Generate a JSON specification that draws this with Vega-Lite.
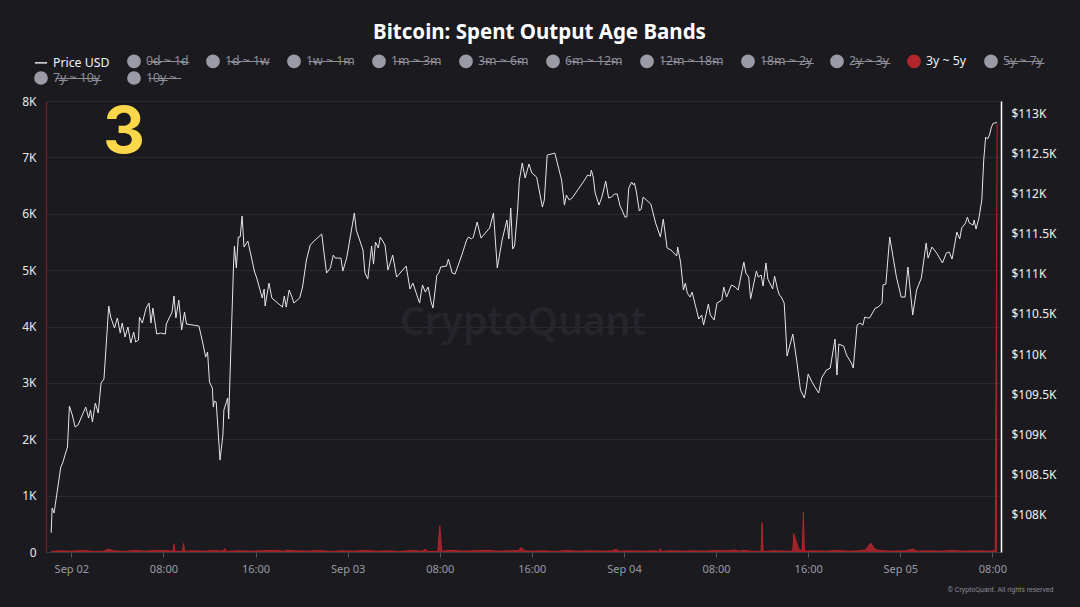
{
  "$schema": "https://vega.github.io/schema/vega-lite/v6.json",
  "width": 955,
  "height": 451,
  "autosize": {"type": "none"},
  "padding": {"left": 46, "top": 101, "right": 79, "bottom": 55},
  "background": "#1a1a1f",
  "title": {"text": "Bitcoin: Spent Output Age Bands", "anchor": "middle", "frame": "group", "fontSize": 20.5, "fontWeight": "bold", "color": "#ffffff", "font": "Noto Sans", "offset": 11, "dx": 16},
  "datasets": {
    "price": [
      {"time": "2025-09-01T22:15:00Z", "price": 107773},
      {"time": "2025-09-01T22:20:00Z", "price": 108081},
      {"time": "2025-09-01T22:30:00Z", "price": 108019},
      {"time": "2025-09-01T23:05:00Z", "price": 108592},
      {"time": "2025-09-01T23:15:00Z", "price": 108642},
      {"time": "2025-09-01T23:30:00Z", "price": 108766},
      {"time": "2025-09-01T23:40:00Z", "price": 108841},
      {"time": "2025-09-01T23:50:00Z", "price": 109352},
      {"time": "2025-09-02T00:05:00Z", "price": 109240},
      {"time": "2025-09-02T00:20:00Z", "price": 109090},
      {"time": "2025-09-02T00:35:00Z", "price": 109115},
      {"time": "2025-09-02T01:15:00Z", "price": 109339},
      {"time": "2025-09-02T01:30:00Z", "price": 109202},
      {"time": "2025-09-02T01:40:00Z", "price": 109302},
      {"time": "2025-09-02T01:50:00Z", "price": 109153},
      {"time": "2025-09-02T02:05:00Z", "price": 109389},
      {"time": "2025-09-02T02:20:00Z", "price": 109265},
      {"time": "2025-09-02T02:35:00Z", "price": 109638},
      {"time": "2025-09-02T02:50:00Z", "price": 109688},
      {"time": "2025-09-02T03:15:00Z", "price": 110598},
      {"time": "2025-09-02T03:25:00Z", "price": 110461},
      {"time": "2025-09-02T03:45:00Z", "price": 110324},
      {"time": "2025-09-02T04:00:00Z", "price": 110449},
      {"time": "2025-09-02T04:15:00Z", "price": 110261},
      {"time": "2025-09-02T04:25:00Z", "price": 110386},
      {"time": "2025-09-02T04:40:00Z", "price": 110212},
      {"time": "2025-09-02T04:55:00Z", "price": 110336},
      {"time": "2025-09-02T05:10:00Z", "price": 110137},
      {"time": "2025-09-02T05:25:00Z", "price": 110274},
      {"time": "2025-09-02T05:35:00Z", "price": 110150},
      {"time": "2025-09-02T05:50:00Z", "price": 110174},
      {"time": "2025-09-02T05:55:00Z", "price": 110461},
      {"time": "2025-09-02T06:10:00Z", "price": 110386},
      {"time": "2025-09-02T06:30:00Z", "price": 110573},
      {"time": "2025-09-02T06:45:00Z", "price": 110635},
      {"time": "2025-09-02T06:55:00Z", "price": 110386},
      {"time": "2025-09-02T07:05:00Z", "price": 110573},
      {"time": "2025-09-02T07:25:00Z", "price": 110249},
      {"time": "2025-09-02T07:45:00Z", "price": 110261},
      {"time": "2025-09-02T08:10:00Z", "price": 110249},
      {"time": "2025-09-02T08:15:00Z", "price": 110374},
      {"time": "2025-09-02T08:45:00Z", "price": 110523},
      {"time": "2025-09-02T08:55:00Z", "price": 110723},
      {"time": "2025-09-02T09:05:00Z", "price": 110449},
      {"time": "2025-09-02T09:20:00Z", "price": 110673},
      {"time": "2025-09-02T09:35:00Z", "price": 110299},
      {"time": "2025-09-02T09:50:00Z", "price": 110523},
      {"time": "2025-09-02T10:00:00Z", "price": 110374},
      {"time": "2025-09-02T11:05:00Z", "price": 110349},
      {"time": "2025-09-02T11:25:00Z", "price": 110137},
      {"time": "2025-09-02T11:40:00Z", "price": 109962},
      {"time": "2025-09-02T11:50:00Z", "price": 110025},
      {"time": "2025-09-02T12:00:00Z", "price": 109651},
      {"time": "2025-09-02T12:15:00Z", "price": 109576},
      {"time": "2025-09-02T12:20:00Z", "price": 109339},
      {"time": "2025-09-02T12:25:00Z", "price": 109414},
      {"time": "2025-09-02T12:35:00Z", "price": 109402},
      {"time": "2025-09-02T12:55:00Z", "price": 108679},
      {"time": "2025-09-02T13:10:00Z", "price": 108991},
      {"time": "2025-09-02T13:15:00Z", "price": 109302},
      {"time": "2025-09-02T13:35:00Z", "price": 109452},
      {"time": "2025-09-02T13:40:00Z", "price": 109190},
      {"time": "2025-09-02T13:45:00Z", "price": 109576},
      {"time": "2025-09-02T14:05:00Z", "price": 111084},
      {"time": "2025-09-02T14:10:00Z", "price": 111346},
      {"time": "2025-09-02T14:20:00Z", "price": 111072},
      {"time": "2025-09-02T14:30:00Z", "price": 111458},
      {"time": "2025-09-02T14:40:00Z", "price": 111458},
      {"time": "2025-09-02T14:50:00Z", "price": 111719},
      {"time": "2025-09-02T15:00:00Z", "price": 111333},
      {"time": "2025-09-02T15:20:00Z", "price": 111408},
      {"time": "2025-09-02T15:55:00Z", "price": 111022},
      {"time": "2025-09-02T16:05:00Z", "price": 110959},
      {"time": "2025-09-02T16:35:00Z", "price": 110698},
      {"time": "2025-09-02T16:45:00Z", "price": 110810},
      {"time": "2025-09-02T16:50:00Z", "price": 110598},
      {"time": "2025-09-02T17:10:00Z", "price": 110884},
      {"time": "2025-09-02T17:25:00Z", "price": 110698},
      {"time": "2025-09-02T18:20:00Z", "price": 110585},
      {"time": "2025-09-02T18:30:00Z", "price": 110723},
      {"time": "2025-09-02T18:40:00Z", "price": 110585},
      {"time": "2025-09-02T18:55:00Z", "price": 110797},
      {"time": "2025-09-02T19:10:00Z", "price": 110710},
      {"time": "2025-09-02T19:20:00Z", "price": 110635},
      {"time": "2025-09-02T19:50:00Z", "price": 110698},
      {"time": "2025-09-02T20:05:00Z", "price": 110835},
      {"time": "2025-09-02T20:25:00Z", "price": 111171},
      {"time": "2025-09-02T20:45:00Z", "price": 111358},
      {"time": "2025-09-02T21:10:00Z", "price": 111420},
      {"time": "2025-09-02T21:45:00Z", "price": 111495},
      {"time": "2025-09-02T22:10:00Z", "price": 111009},
      {"time": "2025-09-02T22:30:00Z", "price": 111072},
      {"time": "2025-09-02T22:45:00Z", "price": 111233},
      {"time": "2025-09-02T22:55:00Z", "price": 111196},
      {"time": "2025-09-02T23:25:00Z", "price": 111196},
      {"time": "2025-09-02T23:35:00Z", "price": 111034},
      {"time": "2025-09-02T23:55:00Z", "price": 111196},
      {"time": "2025-09-03T00:35:00Z", "price": 111757},
      {"time": "2025-09-03T00:45:00Z", "price": 111545},
      {"time": "2025-09-03T01:20:00Z", "price": 111296},
      {"time": "2025-09-03T01:30:00Z", "price": 111009},
      {"time": "2025-09-03T01:45:00Z", "price": 110934},
      {"time": "2025-09-03T02:05:00Z", "price": 111346},
      {"time": "2025-09-03T02:15:00Z", "price": 111121},
      {"time": "2025-09-03T02:25:00Z", "price": 111395},
      {"time": "2025-09-03T02:40:00Z", "price": 111321},
      {"time": "2025-09-03T02:50:00Z", "price": 111458},
      {"time": "2025-09-03T03:15:00Z", "price": 111358},
      {"time": "2025-09-03T03:30:00Z", "price": 111046},
      {"time": "2025-09-03T03:55:00Z", "price": 111233},
      {"time": "2025-09-03T04:15:00Z", "price": 110959},
      {"time": "2025-09-03T05:05:00Z", "price": 111096},
      {"time": "2025-09-03T05:25:00Z", "price": 110810},
      {"time": "2025-09-03T05:40:00Z", "price": 110884},
      {"time": "2025-09-03T06:15:00Z", "price": 110635},
      {"time": "2025-09-03T06:30:00Z", "price": 110860},
      {"time": "2025-09-03T06:45:00Z", "price": 110772},
      {"time": "2025-09-03T07:00:00Z", "price": 110835},
      {"time": "2025-09-03T07:15:00Z", "price": 110648},
      {"time": "2025-09-03T07:25:00Z", "price": 110573},
      {"time": "2025-09-03T07:45:00Z", "price": 110984},
      {"time": "2025-09-03T07:55:00Z", "price": 111009},
      {"time": "2025-09-03T08:05:00Z", "price": 111084},
      {"time": "2025-09-03T08:35:00Z", "price": 111096},
      {"time": "2025-09-03T08:45:00Z", "price": 111183},
      {"time": "2025-09-03T09:05:00Z", "price": 111009},
      {"time": "2025-09-03T09:20:00Z", "price": 110997},
      {"time": "2025-09-03T09:55:00Z", "price": 111233},
      {"time": "2025-09-03T10:20:00Z", "price": 111420},
      {"time": "2025-09-03T10:30:00Z", "price": 111458},
      {"time": "2025-09-03T10:45:00Z", "price": 111433},
      {"time": "2025-09-03T10:55:00Z", "price": 111458},
      {"time": "2025-09-03T11:15:00Z", "price": 111645},
      {"time": "2025-09-03T11:35:00Z", "price": 111445},
      {"time": "2025-09-03T12:20:00Z", "price": 111570},
      {"time": "2025-09-03T12:40:00Z", "price": 111757},
      {"time": "2025-09-03T13:00:00Z", "price": 111072},
      {"time": "2025-09-03T13:25:00Z", "price": 111420},
      {"time": "2025-09-03T13:50:00Z", "price": 111670},
      {"time": "2025-09-03T14:00:00Z", "price": 111433},
      {"time": "2025-09-03T14:10:00Z", "price": 111819},
      {"time": "2025-09-03T14:20:00Z", "price": 111308},
      {"time": "2025-09-03T14:30:00Z", "price": 111346},
      {"time": "2025-09-03T14:45:00Z", "price": 111769},
      {"time": "2025-09-03T14:55:00Z", "price": 112168},
      {"time": "2025-09-03T15:10:00Z", "price": 112380},
      {"time": "2025-09-03T15:25:00Z", "price": 112193},
      {"time": "2025-09-03T15:45:00Z", "price": 112367},
      {"time": "2025-09-03T16:00:00Z", "price": 112255},
      {"time": "2025-09-03T16:25:00Z", "price": 112205},
      {"time": "2025-09-03T16:55:00Z", "price": 111831},
      {"time": "2025-09-03T17:05:00Z", "price": 111919},
      {"time": "2025-09-03T17:20:00Z", "price": 112479},
      {"time": "2025-09-03T18:00:00Z", "price": 112504},
      {"time": "2025-09-03T18:35:00Z", "price": 112168},
      {"time": "2025-09-03T18:50:00Z", "price": 111856},
      {"time": "2025-09-03T19:00:00Z", "price": 111981},
      {"time": "2025-09-03T19:15:00Z", "price": 111919},
      {"time": "2025-09-03T19:30:00Z", "price": 111944},
      {"time": "2025-09-03T20:35:00Z", "price": 112168},
      {"time": "2025-09-03T20:50:00Z", "price": 112230},
      {"time": "2025-09-03T21:05:00Z", "price": 112218},
      {"time": "2025-09-03T21:10:00Z", "price": 112292},
      {"time": "2025-09-03T21:20:00Z", "price": 112205},
      {"time": "2025-09-03T21:30:00Z", "price": 112006},
      {"time": "2025-09-03T21:50:00Z", "price": 111856},
      {"time": "2025-09-03T22:05:00Z", "price": 111956},
      {"time": "2025-09-03T22:25:00Z", "price": 112155},
      {"time": "2025-09-03T22:40:00Z", "price": 111944},
      {"time": "2025-09-03T22:55:00Z", "price": 111956},
      {"time": "2025-09-03T23:10:00Z", "price": 111994},
      {"time": "2025-09-03T23:25:00Z", "price": 111994},
      {"time": "2025-09-03T23:40:00Z", "price": 111844},
      {"time": "2025-09-03T23:50:00Z", "price": 111794},
      {"time": "2025-09-04T00:05:00Z", "price": 111707},
      {"time": "2025-09-04T00:15:00Z", "price": 111707},
      {"time": "2025-09-04T00:25:00Z", "price": 112068},
      {"time": "2025-09-04T00:40:00Z", "price": 112143},
      {"time": "2025-09-04T00:50:00Z", "price": 112106},
      {"time": "2025-09-04T00:55:00Z", "price": 112131},
      {"time": "2025-09-04T01:05:00Z", "price": 112018},
      {"time": "2025-09-04T01:20:00Z", "price": 111782},
      {"time": "2025-09-04T01:30:00Z", "price": 111807},
      {"time": "2025-09-04T01:40:00Z", "price": 111956},
      {"time": "2025-09-04T02:20:00Z", "price": 111869},
      {"time": "2025-09-04T02:45:00Z", "price": 111632},
      {"time": "2025-09-04T03:10:00Z", "price": 111458},
      {"time": "2025-09-04T03:25:00Z", "price": 111682},
      {"time": "2025-09-04T03:45:00Z", "price": 111321},
      {"time": "2025-09-04T04:05:00Z", "price": 111296},
      {"time": "2025-09-04T04:35:00Z", "price": 111221},
      {"time": "2025-09-04T04:40:00Z", "price": 111333},
      {"time": "2025-09-04T04:55:00Z", "price": 111146},
      {"time": "2025-09-04T05:10:00Z", "price": 110797},
      {"time": "2025-09-04T05:20:00Z", "price": 110884},
      {"time": "2025-09-04T05:30:00Z", "price": 110760},
      {"time": "2025-09-04T05:45:00Z", "price": 110710},
      {"time": "2025-09-04T05:55:00Z", "price": 110772},
      {"time": "2025-09-04T06:30:00Z", "price": 110436},
      {"time": "2025-09-04T06:45:00Z", "price": 110486},
      {"time": "2025-09-04T06:55:00Z", "price": 110361},
      {"time": "2025-09-04T07:20:00Z", "price": 110623},
      {"time": "2025-09-04T07:30:00Z", "price": 110486},
      {"time": "2025-09-04T07:50:00Z", "price": 110423},
      {"time": "2025-09-04T08:05:00Z", "price": 110635},
      {"time": "2025-09-04T08:30:00Z", "price": 110673},
      {"time": "2025-09-04T08:40:00Z", "price": 110835},
      {"time": "2025-09-04T08:55:00Z", "price": 110710},
      {"time": "2025-09-04T09:20:00Z", "price": 110860},
      {"time": "2025-09-04T09:40:00Z", "price": 110835},
      {"time": "2025-09-04T09:55:00Z", "price": 110797},
      {"time": "2025-09-04T10:25:00Z", "price": 111146},
      {"time": "2025-09-04T10:35:00Z", "price": 111009},
      {"time": "2025-09-04T10:50:00Z", "price": 110959},
      {"time": "2025-09-04T11:00:00Z", "price": 110685},
      {"time": "2025-09-04T11:30:00Z", "price": 111034},
      {"time": "2025-09-04T11:40:00Z", "price": 110959},
      {"time": "2025-09-04T11:55:00Z", "price": 110984},
      {"time": "2025-09-04T12:05:00Z", "price": 110847},
      {"time": "2025-09-04T12:20:00Z", "price": 111134},
      {"time": "2025-09-04T12:30:00Z", "price": 110934},
      {"time": "2025-09-04T12:55:00Z", "price": 110810},
      {"time": "2025-09-04T13:05:00Z", "price": 110972},
      {"time": "2025-09-04T13:20:00Z", "price": 110810},
      {"time": "2025-09-04T13:30:00Z", "price": 110735},
      {"time": "2025-09-04T13:40:00Z", "price": 110710},
      {"time": "2025-09-04T13:55:00Z", "price": 110635},
      {"time": "2025-09-04T14:00:00Z", "price": 110436},
      {"time": "2025-09-04T14:10:00Z", "price": 109975},
      {"time": "2025-09-04T14:40:00Z", "price": 110249},
      {"time": "2025-09-04T15:00:00Z", "price": 109925},
      {"time": "2025-09-04T15:20:00Z", "price": 109551},
      {"time": "2025-09-04T15:30:00Z", "price": 109501},
      {"time": "2025-09-04T15:40:00Z", "price": 109452},
      {"time": "2025-09-04T15:50:00Z", "price": 109576},
      {"time": "2025-09-04T16:00:00Z", "price": 109751},
      {"time": "2025-09-04T16:20:00Z", "price": 109651},
      {"time": "2025-09-04T16:35:00Z", "price": 109589},
      {"time": "2025-09-04T16:55:00Z", "price": 109514},
      {"time": "2025-09-04T17:10:00Z", "price": 109701},
      {"time": "2025-09-04T17:35:00Z", "price": 109800},
      {"time": "2025-09-04T17:55:00Z", "price": 109825},
      {"time": "2025-09-04T18:20:00Z", "price": 110187},
      {"time": "2025-09-04T18:30:00Z", "price": 109738},
      {"time": "2025-09-04T18:40:00Z", "price": 110124},
      {"time": "2025-09-04T19:05:00Z", "price": 110099},
      {"time": "2025-09-04T19:20:00Z", "price": 109987},
      {"time": "2025-09-04T19:45:00Z", "price": 109888},
      {"time": "2025-09-04T19:55:00Z", "price": 109825},
      {"time": "2025-09-04T20:15:00Z", "price": 110361},
      {"time": "2025-09-04T20:30:00Z", "price": 110386},
      {"time": "2025-09-04T20:45:00Z", "price": 110361},
      {"time": "2025-09-04T20:55:00Z", "price": 110461},
      {"time": "2025-09-04T21:10:00Z", "price": 110449},
      {"time": "2025-09-04T21:20:00Z", "price": 110449},
      {"time": "2025-09-04T21:50:00Z", "price": 110573},
      {"time": "2025-09-04T22:05:00Z", "price": 110585},
      {"time": "2025-09-04T22:25:00Z", "price": 110635},
      {"time": "2025-09-04T22:30:00Z", "price": 110860},
      {"time": "2025-09-04T22:45:00Z", "price": 110872},
      {"time": "2025-09-04T23:05:00Z", "price": 111458},
      {"time": "2025-09-04T23:40:00Z", "price": 110959},
      {"time": "2025-09-05T00:05:00Z", "price": 110710},
      {"time": "2025-09-05T00:25:00Z", "price": 110710},
      {"time": "2025-09-05T00:40:00Z", "price": 111084},
      {"time": "2025-09-05T01:05:00Z", "price": 110486},
      {"time": "2025-09-05T01:25:00Z", "price": 110797},
      {"time": "2025-09-05T01:50:00Z", "price": 110947},
      {"time": "2025-09-05T02:15:00Z", "price": 111383},
      {"time": "2025-09-05T02:25:00Z", "price": 111196},
      {"time": "2025-09-05T02:45:00Z", "price": 111333},
      {"time": "2025-09-05T03:10:00Z", "price": 111258},
      {"time": "2025-09-05T03:40:00Z", "price": 111134},
      {"time": "2025-09-05T04:00:00Z", "price": 111258},
      {"time": "2025-09-05T04:15:00Z", "price": 111271},
      {"time": "2025-09-05T04:30:00Z", "price": 111183},
      {"time": "2025-09-05T04:55:00Z", "price": 111520},
      {"time": "2025-09-05T05:10:00Z", "price": 111433},
      {"time": "2025-09-05T05:20:00Z", "price": 111570},
      {"time": "2025-09-05T05:40:00Z", "price": 111632},
      {"time": "2025-09-05T05:50:00Z", "price": 111707},
      {"time": "2025-09-05T06:00:00Z", "price": 111632},
      {"time": "2025-09-05T06:20:00Z", "price": 111607},
      {"time": "2025-09-05T06:25:00Z", "price": 111670},
      {"time": "2025-09-05T06:35:00Z", "price": 111557},
      {"time": "2025-09-05T06:50:00Z", "price": 111695},
      {"time": "2025-09-05T07:05:00Z", "price": 111919},
      {"time": "2025-09-05T07:15:00Z", "price": 112417},
      {"time": "2025-09-05T07:25:00Z", "price": 112704},
      {"time": "2025-09-05T07:35:00Z", "price": 112679},
      {"time": "2025-09-05T07:45:00Z", "price": 112729},
      {"time": "2025-09-05T07:55:00Z", "price": 112828},
      {"time": "2025-09-05T08:05:00Z", "price": 112878},
      {"time": "2025-09-05T08:15:00Z", "price": 112878},
      {"time": "2025-09-05T08:25:00Z", "price": 112891}
    ],
    "band": [
      {"time": "2025-09-01T22:15:00Z", "value": 10},
      {"time": "2025-09-01T23:00:00Z", "value": 20},
      {"time": "2025-09-02T00:00:00Z", "value": 15},
      {"time": "2025-09-02T01:00:00Z", "value": 25},
      {"time": "2025-09-02T02:00:00Z", "value": 10},
      {"time": "2025-09-02T02:50:00Z", "value": 15},
      {"time": "2025-09-02T03:15:00Z", "value": 50},
      {"time": "2025-09-02T03:40:00Z", "value": 20},
      {"time": "2025-09-02T04:30:00Z", "value": 10},
      {"time": "2025-09-02T05:30:00Z", "value": 25},
      {"time": "2025-09-02T06:30:00Z", "value": 15},
      {"time": "2025-09-02T07:30:00Z", "value": 30},
      {"time": "2025-09-02T08:30:00Z", "value": 20},
      {"time": "2025-09-02T08:50:00Z", "value": 15},
      {"time": "2025-09-02T08:55:00Z", "value": 140},
      {"time": "2025-09-02T09:00:00Z", "value": 10},
      {"time": "2025-09-02T09:40:00Z", "value": 15},
      {"time": "2025-09-02T09:45:00Z", "value": 150},
      {"time": "2025-09-02T09:50:00Z", "value": 10},
      {"time": "2025-09-02T10:30:00Z", "value": 20},
      {"time": "2025-09-02T11:30:00Z", "value": 15},
      {"time": "2025-09-02T12:30:00Z", "value": 25},
      {"time": "2025-09-02T13:10:00Z", "value": 15},
      {"time": "2025-09-02T13:20:00Z", "value": 60},
      {"time": "2025-09-02T13:30:00Z", "value": 10},
      {"time": "2025-09-02T14:30:00Z", "value": 20},
      {"time": "2025-09-02T15:30:00Z", "value": 15},
      {"time": "2025-09-02T16:30:00Z", "value": 20},
      {"time": "2025-09-02T17:30:00Z", "value": 30},
      {"time": "2025-09-02T18:30:00Z", "value": 15},
      {"time": "2025-09-02T18:40:00Z", "value": 30},
      {"time": "2025-09-02T19:30:00Z", "value": 20},
      {"time": "2025-09-02T20:30:00Z", "value": 15},
      {"time": "2025-09-02T21:30:00Z", "value": 25},
      {"time": "2025-09-02T22:30:00Z", "value": 10},
      {"time": "2025-09-02T23:30:00Z", "value": 20},
      {"time": "2025-09-03T00:30:00Z", "value": 15},
      {"time": "2025-09-03T01:30:00Z", "value": 25},
      {"time": "2025-09-03T02:30:00Z", "value": 15},
      {"time": "2025-09-03T03:30:00Z", "value": 20},
      {"time": "2025-09-03T04:30:00Z", "value": 10},
      {"time": "2025-09-03T05:30:00Z", "value": 25},
      {"time": "2025-09-03T06:30:00Z", "value": 15},
      {"time": "2025-09-03T06:45:00Z", "value": 50},
      {"time": "2025-09-03T07:00:00Z", "value": 10},
      {"time": "2025-09-03T07:50:00Z", "value": 10},
      {"time": "2025-09-03T08:00:00Z", "value": 470},
      {"time": "2025-09-03T08:10:00Z", "value": 15},
      {"time": "2025-09-03T09:00:00Z", "value": 30},
      {"time": "2025-09-03T10:00:00Z", "value": 15},
      {"time": "2025-09-03T11:00:00Z", "value": 20},
      {"time": "2025-09-03T12:00:00Z", "value": 30},
      {"time": "2025-09-03T13:00:00Z", "value": 15},
      {"time": "2025-09-03T14:00:00Z", "value": 20},
      {"time": "2025-09-03T14:50:00Z", "value": 25},
      {"time": "2025-09-03T15:05:00Z", "value": 80},
      {"time": "2025-09-03T15:20:00Z", "value": 20},
      {"time": "2025-09-03T16:00:00Z", "value": 15},
      {"time": "2025-09-03T17:00:00Z", "value": 20},
      {"time": "2025-09-03T18:00:00Z", "value": 10},
      {"time": "2025-09-03T19:00:00Z", "value": 25},
      {"time": "2025-09-03T20:00:00Z", "value": 15},
      {"time": "2025-09-03T21:00:00Z", "value": 20},
      {"time": "2025-09-03T22:00:00Z", "value": 15},
      {"time": "2025-09-03T23:00:00Z", "value": 20},
      {"time": "2025-09-03T23:20:00Z", "value": 50},
      {"time": "2025-09-03T23:35:00Z", "value": 15},
      {"time": "2025-09-04T00:30:00Z", "value": 20},
      {"time": "2025-09-04T01:30:00Z", "value": 15},
      {"time": "2025-09-04T02:30:00Z", "value": 20},
      {"time": "2025-09-04T03:05:00Z", "value": 10},
      {"time": "2025-09-04T03:10:00Z", "value": 60},
      {"time": "2025-09-04T03:15:00Z", "value": 10},
      {"time": "2025-09-04T04:00:00Z", "value": 20},
      {"time": "2025-09-04T05:00:00Z", "value": 15},
      {"time": "2025-09-04T06:00:00Z", "value": 20},
      {"time": "2025-09-04T07:00:00Z", "value": 15},
      {"time": "2025-09-04T08:00:00Z", "value": 25},
      {"time": "2025-09-04T09:00:00Z", "value": 20},
      {"time": "2025-09-04T09:35:00Z", "value": 35},
      {"time": "2025-09-04T10:00:00Z", "value": 15},
      {"time": "2025-09-04T10:20:00Z", "value": 30},
      {"time": "2025-09-04T11:00:00Z", "value": 15},
      {"time": "2025-09-04T11:55:00Z", "value": 10},
      {"time": "2025-09-04T12:00:00Z", "value": 525},
      {"time": "2025-09-04T12:05:00Z", "value": 10},
      {"time": "2025-09-04T13:00:00Z", "value": 20},
      {"time": "2025-09-04T14:00:00Z", "value": 15},
      {"time": "2025-09-04T14:40:00Z", "value": 15},
      {"time": "2025-09-04T14:45:00Z", "value": 325},
      {"time": "2025-09-04T15:00:00Z", "value": 170},
      {"time": "2025-09-04T15:10:00Z", "value": 50},
      {"time": "2025-09-04T15:30:00Z", "value": 20},
      {"time": "2025-09-04T15:35:00Z", "value": 710},
      {"time": "2025-09-04T15:40:00Z", "value": 15},
      {"time": "2025-09-04T16:30:00Z", "value": 20},
      {"time": "2025-09-04T17:30:00Z", "value": 15},
      {"time": "2025-09-04T18:30:00Z", "value": 25},
      {"time": "2025-09-04T19:30:00Z", "value": 15},
      {"time": "2025-09-04T20:30:00Z", "value": 20},
      {"time": "2025-09-04T21:00:00Z", "value": 40},
      {"time": "2025-09-04T21:25:00Z", "value": 160},
      {"time": "2025-09-04T21:50:00Z", "value": 40},
      {"time": "2025-09-04T22:30:00Z", "value": 20},
      {"time": "2025-09-04T23:30:00Z", "value": 15},
      {"time": "2025-09-05T00:30:00Z", "value": 20},
      {"time": "2025-09-05T01:05:00Z", "value": 50},
      {"time": "2025-09-05T01:30:00Z", "value": 15},
      {"time": "2025-09-05T02:30:00Z", "value": 20},
      {"time": "2025-09-05T03:30:00Z", "value": 15},
      {"time": "2025-09-05T04:30:00Z", "value": 25},
      {"time": "2025-09-05T05:30:00Z", "value": 15},
      {"time": "2025-09-05T06:30:00Z", "value": 20},
      {"time": "2025-09-05T07:30:00Z", "value": 15},
      {"time": "2025-09-05T08:15:00Z", "value": 20},
      {"time": "2025-09-05T08:25:00Z", "value": 7600}
    ]
  },
  "layer": [
    {
      "data": {"name": "band"},
      "mark": {"type": "area", "fillOpacity": 0.85, "line": {"strokeWidth": 1}, "interpolate": "linear"},
      "encoding": {
        "x": {
          "field": "time", "type": "temporal",
          "scale": {"type": "utc", "domain": [{"year": 2025, "month": 9, "date": 1, "hours": 21, "minutes": 48, "utc": true}, {"year": 2025, "month": 9, "date": 5, "hours": 8, "minutes": 45, "utc": true}]},
          "axis": {
            "title": "© CryptoQuant. All rights reserved",
            "titleX": 1007, "titleY": 37, "titleAlign": "right", "titleBaseline": "middle",
            "titleFontSize": 7, "titleFontWeight": "normal", "titleColor": "#8a8a94", "titleFont": "Roboto",
            "values": [
              {"year": 2025, "month": 9, "date": 2, "hours": 0, "utc": true},
              {"year": 2025, "month": 9, "date": 2, "hours": 8, "utc": true},
              {"year": 2025, "month": 9, "date": 2, "hours": 16, "utc": true},
              {"year": 2025, "month": 9, "date": 3, "hours": 0, "utc": true},
              {"year": 2025, "month": 9, "date": 3, "hours": 8, "utc": true},
              {"year": 2025, "month": 9, "date": 3, "hours": 16, "utc": true},
              {"year": 2025, "month": 9, "date": 4, "hours": 0, "utc": true},
              {"year": 2025, "month": 9, "date": 4, "hours": 8, "utc": true},
              {"year": 2025, "month": 9, "date": 4, "hours": 16, "utc": true},
              {"year": 2025, "month": 9, "date": 5, "hours": 0, "utc": true},
              {"year": 2025, "month": 9, "date": 5, "hours": 8, "utc": true}
            ],
            "labelExpr": "utchours(datum.value) == 0 ? utcFormat(datum.value, '%b %d') : utcFormat(datum.value, '%H:%M')",
            "labelColor": "#9a9aa4", "labelFontSize": 11, "labelPadding": 6, "labelFlush": false,
            "tickColor": "#55555c", "tickSize": 5, "domainColor": "#3a3a40", "grid": false
          }
        },
        "y": {
          "field": "value", "type": "quantitative",
          "scale": {"domain": [0, 8000], "nice": false},
          "axis": {
            "orient": "left", "title": null,
            "values": [0, 1000, 2000, 3000, 4000, 5000, 6000, 7000, 8000],
            "labelExpr": "datum.value == 0 ? '0' : (datum.value / 1000) + 'K'",
            "labelColor": "#e8e8ec", "labelFontSize": 12, "labelPadding": 10, "ticks": false,
            "domainColor": "#6b1f24", "domainWidth": 1.5,
            "grid": true, "gridColor": "#2a2a30", "gridWidth": 1
          }
        },
        "color": {
          "datum": "3y ~ 5y", "type": "nominal",
          "scale": {
            "domain": ["Price USD", "0d ~ 1d", "1d ~ 1w", "1w ~ 1m", "1m ~ 3m", "3m ~ 6m", "6m ~ 12m", "12m ~ 18m", "18m ~ 2y", "2y ~ 3y", "3y ~ 5y", "5y ~ 7y", "7y ~ 10y", "10y ~"],
            "range": ["#e6e6e6", "#9b9ba6", "#9b9ba6", "#9b9ba6", "#9b9ba6", "#9b9ba6", "#9b9ba6", "#9b9ba6", "#9b9ba6", "#9b9ba6", "#b3262b", "#9b9ba6", "#9b9ba6", "#9b9ba6"]
          },
          "legend": {
            "orient": "none", "legendX": -12, "legendY": -47,
            "direction": "horizontal", "columns": 12, "title": null,
            "symbolType": "circle", "symbolSize": 150,
            "labelFont": "Noto Sans", "labelFontSize": 12.3, "labelOffset": 5,
            "columnPadding": 14, "rowPadding": -4,
            "labelExpr": "datum.label === 'Price USD' || datum.label === '3y ~ 5y' ? datum.label : replace(datum.label, regexp('(.)', 'g'), '$1\u0336')",
            "encode": {
              "symbols": {"update": {
                "shape": {"signal": "datum.value === 'Price USD' ? 'stroke' : 'circle'"},
                "fill": {"signal": "datum.value === 'Price USD' ? 'transparent' : (datum.value === '3y ~ 5y' ? '#b3262b' : '#9b9ba6')"},
                "stroke": {"signal": "datum.value === 'Price USD' ? '#e6e6e6' : 'transparent'"},
                "strokeWidth": {"value": 1.5},
                "opacity": {"value": 1},
                "fillOpacity": {"value": 1}
              }},
              "labels": {"update": {
                "fill": {"signal": "datum.value === 'Price USD' || datum.value === '3y ~ 5y' ? '#f2f2f2' : '#8e8e99'"}
              }}
            }
          }
        }
      }
    },
    {
      "data": {"name": "price"},
      "mark": {"type": "line", "strokeWidth": 1, "interpolate": "linear"},
      "encoding": {
        "x": {
          "field": "time", "type": "temporal",
          "scale": {"type": "utc", "domain": [{"year": 2025, "month": 9, "date": 1, "hours": 21, "minutes": 48, "utc": true}, {"year": 2025, "month": 9, "date": 5, "hours": 8, "minutes": 45, "utc": true}]},
          "axis": null
        },
        "y": {
          "field": "price", "type": "quantitative",
          "scale": {"domain": [107533, 113153], "nice": false, "zero": false},
          "axis": {
            "orient": "right", "title": null,
            "values": [108000, 108500, 109000, 109500, 110000, 110500, 111000, 111500, 112000, 112500, 113000],
            "labelExpr": "'$' + (datum.value / 1000) + 'K'",
            "labelColor": "#f2f2f2", "labelFontSize": 12, "labelPadding": 10, "ticks": false,
            "domainColor": "#ffffff", "domainWidth": 1.5, "grid": false
          }
        },
        "color": {
          "datum": "Price USD", "type": "nominal",
          "scale": {
            "domain": ["Price USD", "0d ~ 1d", "1d ~ 1w", "1w ~ 1m", "1m ~ 3m", "3m ~ 6m", "6m ~ 12m", "12m ~ 18m", "18m ~ 2y", "2y ~ 3y", "3y ~ 5y", "5y ~ 7y", "7y ~ 10y", "10y ~"],
            "range": ["#e6e6e6", "#9b9ba6", "#9b9ba6", "#9b9ba6", "#9b9ba6", "#9b9ba6", "#9b9ba6", "#9b9ba6", "#9b9ba6", "#9b9ba6", "#b3262b", "#9b9ba6", "#9b9ba6", "#9b9ba6"]
          }
        }
      }
    },
    {
      "data": {"values": [{"label": "3"}]},
      "mark": {"type": "text", "fontSize": 65, "fontWeight": "bold", "font": "Inter", "color": "#fdd74a", "align": "center", "baseline": "alphabetic"},
      "encoding": {
        "x": {"datum": {"year": 2025, "month": 9, "date": 2, "hours": 4, "minutes": 35, "utc": true}, "type": "temporal", "scale": {"type": "utc", "domain": [{"year": 2025, "month": 9, "date": 1, "hours": 21, "minutes": 48, "utc": true}, {"year": 2025, "month": 9, "date": 5, "hours": 8, "minutes": 45, "utc": true}]}, "axis": null},
        "y": {"datum": 7070, "type": "quantitative", "scale": {"domain": [0, 8000], "nice": false}, "axis": null},
        "text": {"field": "label"}
      }
    },
    {
      "data": {"values": [{"label": "CryptoQuant"}]},
      "mark": {"type": "text", "fontSize": 39, "fontWeight": 600, "font": "Noto Sans", "color": "#25252b", "align": "center", "baseline": "middle"},
      "encoding": {
        "x": {"datum": {"year": 2025, "month": 9, "date": 3, "hours": 15, "minutes": 14, "utc": true}, "type": "temporal", "scale": {"type": "utc", "domain": [{"year": 2025, "month": 9, "date": 1, "hours": 21, "minutes": 48, "utc": true}, {"year": 2025, "month": 9, "date": 5, "hours": 8, "minutes": 45, "utc": true}]}, "axis": null},
        "y": {"datum": 4060, "type": "quantitative", "scale": {"domain": [0, 8000], "nice": false}, "axis": null},
        "text": {"field": "label"}
      }
    }
  ],
  "resolve": {"scale": {"x": "independent", "y": "independent"}, "axis": {"x": "independent", "y": "independent"}},
  "config": {
    "font": "Noto Sans",
    "view": {"stroke": null},
    "axis": {"labelFont": "Noto Sans", "titleFont": "Noto Sans"},
    "legend": {"labelFont": "Noto Sans"}
  }
}
